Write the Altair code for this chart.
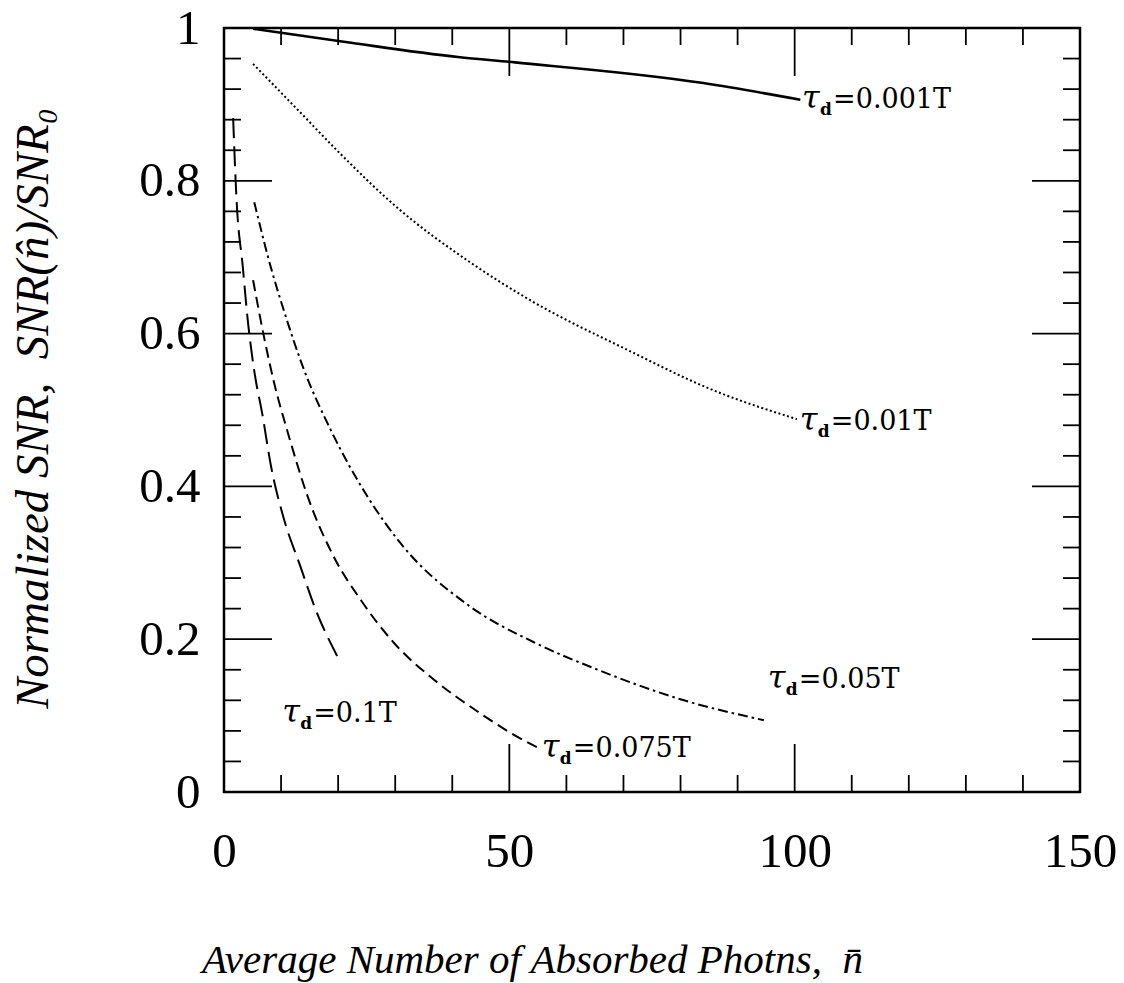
import altair as alt
import pandas as pd

# ---- data ----
x_001 = [5.1, 21, 41, 51, 84, 101]
y_001 = [0.999, 0.982, 0.962, 0.955, 0.928, 0.906]

x_01 = [5.1, 13.3, 20.3, 30.8, 42.6, 53.6, 70.6, 85.7, 100.4]
y_01 = [0.953, 0.89, 0.836, 0.762, 0.696, 0.644, 0.579, 0.526, 0.488]

x_05 = [5.3, 8.2, 10.5, 14.0, 18.7, 25.2, 31.0, 42.7, 54.3, 65.5, 80.6, 94.6]
y_05 = [0.772, 0.687, 0.630, 0.553, 0.474, 0.386, 0.325, 0.245, 0.196, 0.160, 0.120, 0.094]

x_075 = [5.1, 7.0, 8.8, 11.2, 14.7, 19.3, 24.0, 29.8, 36.8, 44.5, 50.3, 55.0]
y_075 = [0.670, 0.596, 0.535, 0.470, 0.386, 0.307, 0.251, 0.195, 0.147, 0.105, 0.077, 0.058]

x_1 = [1.6, 2.2, 3.3, 4.1, 5.2, 6.8, 8.2, 10.4, 13.4, 16.1, 19.9]
y_1 = [0.882, 0.775, 0.687, 0.622, 0.556, 0.491, 0.428, 0.360, 0.295, 0.238, 0.177]

label_text = ["=0.001T", "=0.01T", "=0.05T", "=0.075T", "=0.1T"]
label_x = [101.3, 100.9, 95.3, 55.7, 10.2]
label_y = [0.895, 0.474, 0.136, 0.046, 0.092]

x_ticks_major = [50, 100]
x_ticks_minor = [10, 20, 30, 40, 60, 70, 80, 90, 110, 120, 130, 140]
y_ticks_major = [0.2, 0.4, 0.6, 0.8]
y_ticks_minor = [0.04, 0.08, 0.12, 0.16, 0.24, 0.28, 0.32, 0.36, 0.44, 0.48, 0.52,
                 0.56, 0.64, 0.68, 0.72, 0.76, 0.84, 0.88, 0.92, 0.96]
x_label_values = [0, 50, 100, 150]
y_label_values = [0, 0.2, 0.4, 0.6, 0.8, 1.0]

W, H = 856, 764
MAJ, MIN = 48, 17

XFONT = "Liberation Serif"

x_enc = alt.X(
    "x:Q",
    scale=alt.Scale(domain=[0, 150], nice=False, zero=False),
    axis=alt.Axis(
        values=x_label_values, domain=False, ticks=False, grid=False,
        labelFont=XFONT, labelFontSize=49, labelColor="black", labelPadding=35,
        labelFlush=False,
        title="Average Number of Absorbed Photns,\u2002n\u0304",
        titleFont=XFONT, titleFontSize=41, titleFontStyle="italic",
        titleFontWeight="normal", titleColor="black",
        titleX=308, titleY=180, titleBaseline="alphabetic", titleAlign="center",
    ),
)
y_enc = alt.Y(
    "y:Q",
    scale=alt.Scale(domain=[0, 1], nice=False, zero=False),
    axis=alt.Axis(
        values=y_label_values, format="~g", domain=False, ticks=False, grid=False,
        labelFont=XFONT, labelFontSize=49, labelColor="black", labelPadding=24,
        labelFlush=False,
        title="Normalized SNR,\u2002SNR(n\u0302)/SNR\u2080",
        titleFont=XFONT, titleFontSize=47, titleFontStyle="italic",
        titleFontWeight="normal", titleColor="black",
        titleX=-177, titleY=380, titleBaseline="alphabetic", titleAlign="center",
        titleAngle=270,
    ),
)


def series(xs, ys):
    return pd.DataFrame({"x": xs, "y": ys})


layers = []
styles = [
    (x_001, y_001, dict(strokeWidth=2.6)),
    (x_01, y_01, dict(strokeWidth=2.0, strokeDash=[2, 2.5])),
    (x_05, y_05, dict(strokeWidth=2.0, strokeDash=[10, 4, 2.5, 4])),
    (x_075, y_075, dict(strokeWidth=2.0, strokeDash=[11, 6])),
    (x_1, y_1, dict(strokeWidth=2.0, strokeDash=[20, 8])),
]
for xs, ys, st in styles:
    layers.append(
        alt.Chart(series(xs, ys)).mark_line(color="black", interpolate="monotone", **st)
        .encode(x=x_enc, y=y_enc)
    )


def xt(vals):
    return pd.DataFrame({"x": vals})


def yt(vals):
    return pd.DataFrame({"y": vals})


# inward ticks on all four sides
for vals, ln in [(x_ticks_major, MAJ), (x_ticks_minor, MIN)]:
    layers.append(alt.Chart(xt(vals)).mark_rule(color="black", strokeWidth=1.8)
                  .encode(x=x_enc, y=alt.value(H), y2=alt.value(H - ln)))
    layers.append(alt.Chart(xt(vals)).mark_rule(color="black", strokeWidth=1.8)
                  .encode(x=x_enc, y=alt.value(0), y2=alt.value(ln)))
for vals, ln in [(y_ticks_major, MAJ), (y_ticks_minor, MIN)]:
    layers.append(alt.Chart(yt(vals)).mark_rule(color="black", strokeWidth=1.8)
                  .encode(y=y_enc, x=alt.value(0), x2=alt.value(ln)))
    layers.append(alt.Chart(yt(vals)).mark_rule(color="black", strokeWidth=1.8)
                  .encode(y=y_enc, x=alt.value(W), x2=alt.value(W - ln)))

# curve labels  tau_d=...
lab = pd.DataFrame({"x": label_x, "y": label_y, "t": label_text})
layers.append(alt.Chart(lab).mark_text(
    text="\u03c4", font="DejaVu Serif", fontStyle="italic", fontSize=32,
    align="left", baseline="alphabetic", color="black")
    .encode(x=x_enc, y=y_enc))
layers.append(alt.Chart(lab).mark_text(
    text="d", font="DejaVu Serif", fontWeight="bold", fontSize=17,
    align="left", baseline="alphabetic", dx=18, dy=7, color="black")
    .encode(x=x_enc, y=y_enc))
layers.append(alt.Chart(lab).mark_text(
    font="DejaVu Serif", fontSize=27, align="left", baseline="alphabetic",
    dx=31, color="black")
    .encode(x=x_enc, y=y_enc, text="t:N"))

chart = alt.layer(*layers).properties(
    width=W, height=H,
    autosize=alt.AutoSizeParams(type="none"),
    padding={"left": 224, "top": 28, "right": 44, "bottom": 191},
    background="white",
).configure_view(stroke="black", strokeWidth=2.5)

chart.save("out.html", embed_options={"renderer": "svg", "actions": False})
